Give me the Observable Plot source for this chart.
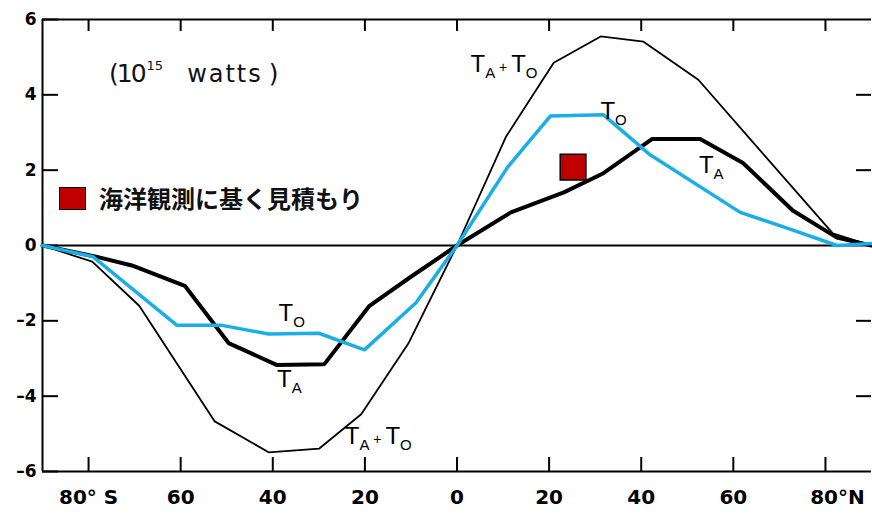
<!DOCTYPE html>
<html><head><meta charset="utf-8">
<script src="https://cdn.jsdelivr.net/npm/d3@7"></script>
<script src="https://cdn.jsdelivr.net/npm/@observablehq/plot@0.6"></script>
<style>
html,body{margin:0;padding:0;background:#fff;}
#wrap{position:relative;width:872px;height:519px;overflow:hidden;background:#fff;}
#unit{position:absolute;left:109px;top:60px;font-family:"DejaVu Sans";font-size:25px;line-height:28px;color:#111;white-space:nowrap;}
#unit .n{letter-spacing:-2px;}
#unit .s{font-size:13px;position:relative;top:-12px;margin-left:2px;}
#unit .w{margin-left:24px;letter-spacing:2px;font-size:24px;}
#unit .p{margin-left:6px;}
#legend{position:absolute;left:59px;top:186px;display:flex;align-items:center;}
#legend .sw{width:25px;height:21px;background:#c00000;border:1.5px solid #000;}
#legend .lb{margin-left:13px;font-family:"Noto Sans CJK JP";font-weight:bold;font-size:24px;line-height:24px;color:#111;}
svg g[aria-label="x-axis tick label"]{font-size:20px;font-weight:bold;font-family:"DejaVu Sans";}
svg g[aria-label="y-axis tick label"]{font-size:17px;font-weight:bold;font-family:"DejaVu Sans";}
</style></head>
<body><div id="wrap"></div>
<script>
// Domains and ticks
const xDomain = [-90, 90];
const yDomain = [-6, 6];
const xTicks = [-80, -60, -40, -20, 0, 20, 40, 60, 80];
const xTickLabels = ["80° S", "60", "40", "20", "0", "20", "40", "60", "80°N"];
const yTicks = [-6, -4, -2, 0, 2, 4, 6];
const rightTicks = [-4, -2, 2, 4];

// T_A + T_O (total transport, thin black)
const latSum = [-90, -79.2, -69, -52.6, -40.9, -29.9, -20.8, -10.6, 0, 10.6, 21, 31.2, 40.5, 52.4, 81.6, 90];
const valSum = [0, -0.43, -1.6, -4.67, -5.49, -5.39, -4.48, -2.61, 0, 2.88, 4.85, 5.55, 5.41, 4.4, 0.32, 0];

// T_A (atmosphere, thick black)
const latTA = [-90, -78.6, -70.6, -59.1, -49.6, -39.2, -28.8, -19, -10, 0, 11.7, 23.2, 31.8, 42.4, 52.8, 62.1, 72.9, 82.5, 90];
const valTA = [0, -0.29, -0.53, -1.07, -2.59, -3.17, -3.15, -1.6, -0.83, 0, 0.88, 1.41, 1.92, 2.83, 2.83, 2.19, 0.93, 0.21, 0];

// T_O (ocean, blue)
const latTO = [-90, -79, -60.8, -51, -40.9, -30, -20.1, -8.9, 0, 11, 20.3, 31.8, 42, 61.5, 72, 82.5, 90];
const valTO = [0, -0.3, -2.12, -2.12, -2.35, -2.33, -2.77, -1.52, 0, 2.08, 3.44, 3.47, 2.4, 0.88, 0.45, 0, 0.05];

// Ocean-observation estimate (red square)
const obsLat = [25.2];
const obsVal = [2.08];

// Curve labels
const labelText = ["T_A+T_O", "T_O", "T_A", "T_O", "T_A", "T_A+T_O"];
const labelLat = [10.2, 34, 55.2, -35.9, -36.4, -17.1];
const labelVal = [4.8, 3.55, 2.13, -1.81, -3.55, -5.07];

const legendText = "海洋観測に基く見積もり";

const toRows = (lats, vals) => lats.map((lat, i) => ({lat, v: vals[i]}));
const sumData = toRows(latSum, valSum);
const taData = toRows(latTA, valTA);
const toData = toRows(latTO, valTO);
const obsData = toRows(obsLat, obsVal);
const labelData = labelText.map((t, i) => ({t, lat: labelLat[i], v: labelVal[i]}));
const xLabelMap = new Map(xTicks.map((d, i) => [d, xTickLabels[i]]));
const fmtY = d => d < 0 ? "–" + Math.abs(d) : String(d);

const W = 872, H = 519, mL = 42, mR = 1, mT = 19, mB = 48;
const frameW = W - mL - mR, frameH = H - mT - mB;

const plot = Plot.plot({
  width: W, height: H,
  marginLeft: mL, marginRight: mR, marginTop: mT, marginBottom: mB,
  x: {domain: xDomain, label: null},
  y: {domain: yDomain, label: null},
  style: {fontFamily: "DejaVu Sans", background: "white", color: "black", overflow: "visible"},
  marks: [
    Plot.ruleY(yDomain, {stroke: "black", strokeWidth: 2}),
    Plot.ruleX([xDomain[0]], {stroke: "black", strokeWidth: 2}),
    Plot.ruleY([0], {stroke: "black", strokeWidth: 2}),
    Plot.tickX(xTicks, {x: d => d, insetBottom: frameH - 12, stroke: "black", strokeWidth: 2}),
    Plot.tickX(xTicks, {x: d => d, insetTop: frameH - 14, stroke: "black", strokeWidth: 2}),
    Plot.tickY(yTicks, {y: d => d, insetRight: frameW - 16, stroke: "black", strokeWidth: 2}),
    Plot.tickY(rightTicks, {y: d => d, insetLeft: frameW - 15, stroke: "black", strokeWidth: 2}),
    Plot.axisY({ticks: yTicks, tickSize: 0, tickPadding: 6, tickFormat: fmtY, label: null}),
    Plot.axisX({ticks: xTicks, tickSize: 0, tickPadding: 18, tickFormat: d => xLabelMap.get(d), label: null}),
    Plot.line(sumData, {x: "lat", y: "v", stroke: "black", strokeWidth: 1.8}),
    Plot.line(taData, {x: "lat", y: "v", stroke: "black", strokeWidth: 4}),
    Plot.line(toData, {x: "lat", y: "v", stroke: "#1aaee6", strokeWidth: 3.5}),
    Plot.dot(obsData, {x: "lat", y: "v", symbol: "square", r: 14.5, fill: "#c00000", stroke: "black", strokeWidth: 1.5}),
    Plot.text(labelData, {x: "lat", y: "v", text: "t", fontSize: 24, fontFamily: "Liberation Sans", fill: "black"})
  ]
});

// Subscripts on curve labels
d3.select(plot).selectAll('g[aria-label="text"] text').each(function() {
  const s = this.textContent;
  const t = d3.select(this);
  t.text("");
  const parts = s.split("+");
  parts.forEach((p, i) => {
    const [base, sub] = p.split("_");
    if (i > 0) t.append("tspan").attr("font-size", 14).attr("dy", -6).text(" + ");
    t.append("tspan").text(base);
    t.append("tspan").attr("font-size", 15).attr("dy", 6).text(sub);
  });
});
// shift last x label like the reference
const xl = d3.select(plot).selectAll('g[aria-label="x-axis tick label"] text').nodes();
if (xl.length) d3.select(xl[xl.length - 1]).attr("dx", 12);

const wrap = document.getElementById("wrap");
wrap.appendChild(plot);

const unit = document.createElement("div");
unit.id = "unit";
unit.innerHTML = '<span class="n">(10</span><span class="s">15</span><span class="w">watts</span><span class="p">)</span>';
wrap.appendChild(unit);

const legend = document.createElement("div");
legend.id = "legend";
legend.innerHTML = '<div class="sw"></div><div class="lb"></div>';
legend.querySelector(".lb").textContent = legendText;
wrap.appendChild(legend);
</script>
</body></html>
